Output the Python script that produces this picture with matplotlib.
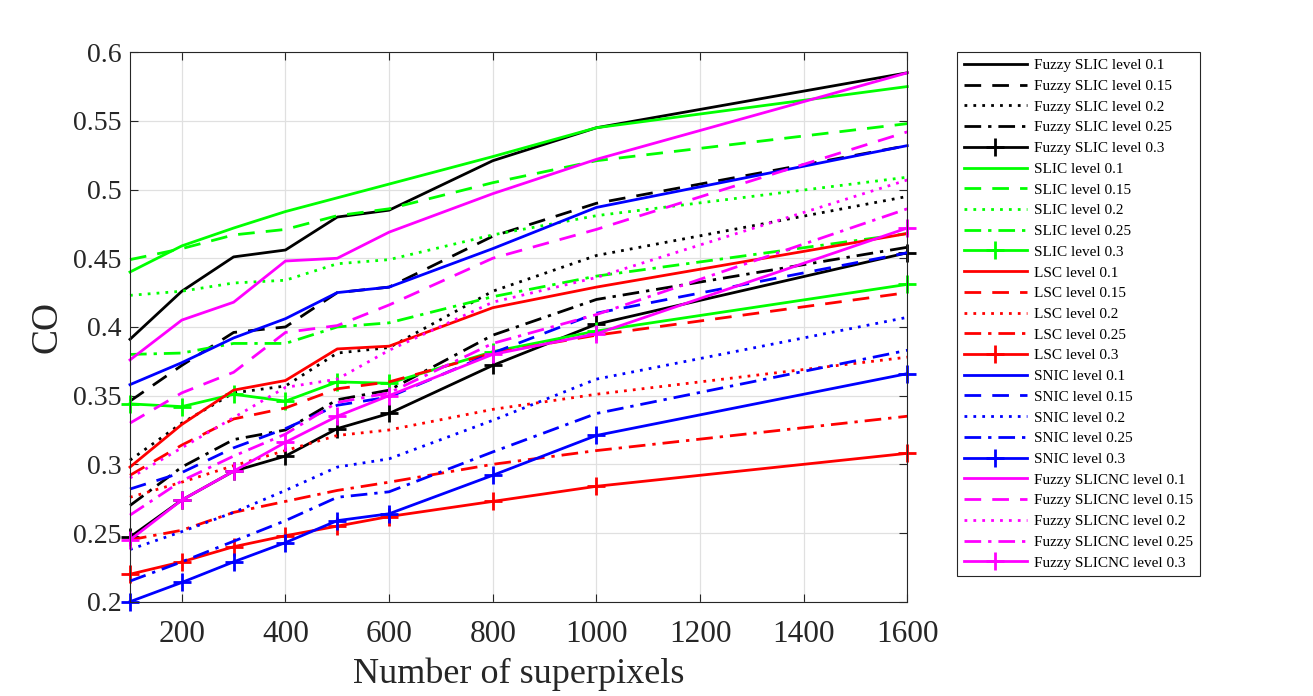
import matplotlib

matplotlib.use("Agg")
import matplotlib.pyplot as plt

plt.rcParams["font.family"] = ["Liberation Serif", "DejaVu Serif"]

superpixels = [100, 200, 300, 400, 500, 600, 800, 1000, 1600]
levels = ["0.1", "0.15", "0.2", "0.25", "0.3"]

fuzzy_slic = [
  [0.391, 0.426, 0.451, 0.456, 0.480, 0.485, 0.521, 0.545, 0.585],
  [0.346, 0.372, 0.396, 0.400, 0.425, 0.429, 0.466, 0.490, 0.532],
  [0.303, 0.330, 0.352, 0.357, 0.381, 0.385, 0.426, 0.452, 0.495],
  [0.270, 0.298, 0.318, 0.325, 0.347, 0.354, 0.394, 0.420, 0.458],
  [0.247, 0.274, 0.295, 0.306, 0.326, 0.337, 0.372, 0.402, 0.454],
]
slic = [
  [0.440, 0.459, 0.472, 0.484, 0.494, 0.504, 0.524, 0.545, 0.575],
  [0.449, 0.457, 0.467, 0.471, 0.481, 0.486, 0.505, 0.521, 0.548],
  [0.423, 0.426, 0.432, 0.434, 0.446, 0.449, 0.467, 0.481, 0.509],
  [0.380, 0.381, 0.388, 0.388, 0.400, 0.403, 0.422, 0.437, 0.468],
  [0.344, 0.342, 0.351, 0.346, 0.360, 0.359, 0.382, 0.397, 0.431],
]
lsc = [
  [0.298, 0.329, 0.354, 0.361, 0.384, 0.386, 0.414, 0.429, 0.468],
  [0.292, 0.314, 0.333, 0.341, 0.355, 0.360, 0.381, 0.394, 0.425],
  [0.276, 0.287, 0.299, 0.310, 0.321, 0.325, 0.340, 0.351, 0.378],
  [0.245, 0.252, 0.265, 0.273, 0.281, 0.287, 0.300, 0.310, 0.335],
  [0.220, 0.229, 0.240, 0.248, 0.255, 0.262, 0.273, 0.284, 0.308],
]
snic = [
  [0.358, 0.374, 0.392, 0.406, 0.425, 0.429, 0.457, 0.487, 0.532],
  [0.282, 0.294, 0.312, 0.326, 0.343, 0.349, 0.381, 0.410, 0.454],
  [0.238, 0.251, 0.265, 0.281, 0.298, 0.304, 0.332, 0.362, 0.407],
  [0.215, 0.229, 0.244, 0.259, 0.276, 0.280, 0.309, 0.337, 0.383],
  [0.200, 0.214, 0.229, 0.243, 0.259, 0.264, 0.292, 0.321, 0.366],
]
fuzzy_slicnc = [
  [0.376, 0.405, 0.418, 0.448, 0.450, 0.469, 0.497, 0.522, 0.585],
  [0.330, 0.352, 0.367, 0.396, 0.401, 0.416, 0.450, 0.471, 0.542],
  [0.290, 0.312, 0.334, 0.356, 0.362, 0.383, 0.418, 0.436, 0.507],
  [0.263, 0.288, 0.306, 0.322, 0.345, 0.352, 0.388, 0.409, 0.486],
  [0.245, 0.274, 0.295, 0.316, 0.335, 0.350, 0.380, 0.395, 0.472],
]

methods = [
  ("Fuzzy SLIC", fuzzy_slic, (0, 0, 0)),
  ("SLIC", slic, (0, 1, 0)),
  ("LSC", lsc, (1, 0, 0)),
  ("SNIC", snic, (0, 0, 1)),
  ("Fuzzy SLICNC", fuzzy_slicnc, (1, 0, 1)),
]
styles = [
  dict(linestyle="-"),
  dict(linestyle=(0, (6, 4))),
  dict(linestyle=(0, (1, 2.2))),
  dict(linestyle=(0, (6, 2.5, 1.2, 2.5))),
  dict(linestyle="-", marker="+", markersize=13, markeredgewidth=2),
]
ink = (0.15, 0.15, 0.15)

fig = plt.figure(figsize=(13.13, 6.96), dpi=100)
ax = fig.add_axes([0.099, 0.1355, 0.592, 0.7895])

for name, series, color in methods:
  for level, values, style in zip(levels, series, styles):
    ax.plot(superpixels, values, color=color, linewidth=2.0, clip_on=False,
            label=f"{name} level {level}", **style)

ax.set_xlim(100, 1600)
ax.set_ylim(0.2, 0.6)
ax.set_xticks([200, 400, 600, 800, 1000, 1200, 1400, 1600])
ax.set_yticks([0.2, 0.25, 0.3, 0.35, 0.4, 0.45, 0.5, 0.55, 0.6])
ax.set_yticklabels(["0.2", "0.25", "0.3", "0.35", "0.4", "0.45", "0.5", "0.55", "0.6"])
ax.tick_params(direction="in", length=6, width=0.8, top=True, right=True,
               colors=ink, labelcolor=ink)
ax.tick_params(axis="x", labelsize=22.5, pad=13)
ax.tick_params(axis="y", labelsize=20, pad=6)
ax.grid(True, color=(0.88, 0.88, 0.88), linewidth=0.9)
ax.set_axisbelow(True)
for spine in ax.spines.values():
  spine.set_color(ink)
  spine.set_linewidth(0.8)

ax.set_xlabel("Number of superpixels", fontsize=26, color=ink, labelpad=6)
ax.set_ylabel("CO", fontsize=27, color=ink, labelpad=6)

leg = fig.legend(
  loc="upper left",
  bbox_to_anchor=(0.7289, 0.9257),
  borderaxespad=0,
  fontsize=11,
  handlelength=4.1,
  labelspacing=0.46,
  handletextpad=0.46,
  borderpad=0.45,
  fancybox=False,
  framealpha=1,
  edgecolor=ink,
)
leg.get_frame().set_linewidth(0.8)

fig.savefig("out.png", dpi=100)
